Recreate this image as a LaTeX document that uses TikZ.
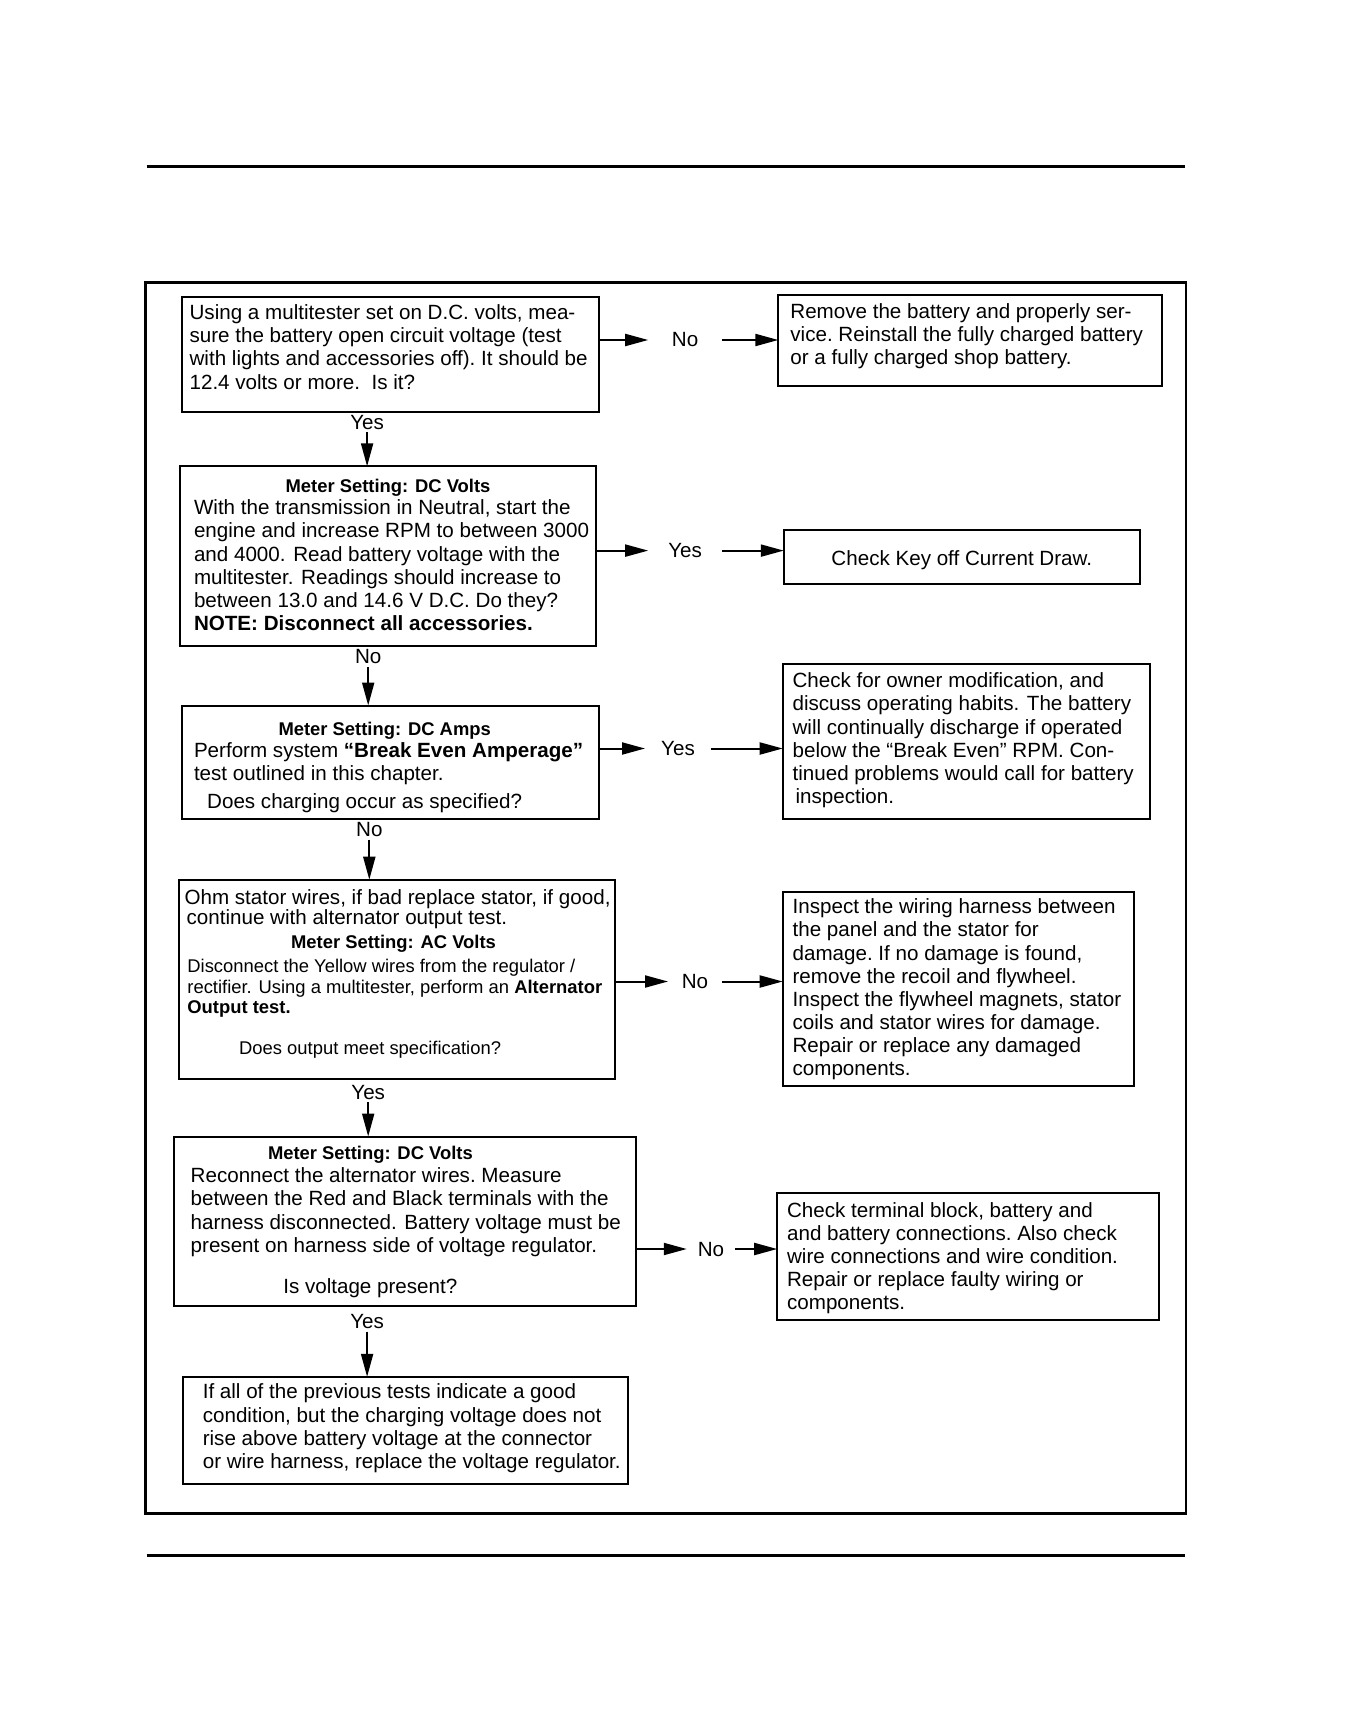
\documentclass[tikz,border=0pt]{standalone}
\usepackage{fontspec}
\setmainfont{Liberation Sans}
\usetikzlibrary{arrows.meta,fit}
\newcommand\mystrut{\rule{0pt}{8pt}}
\begin{document}
\begin{tikzpicture}[x=0.5pt,y=-0.5pt,
  box/.style={draw, line width=1pt, inner sep=0pt, outer sep=0pt},
  txt/.style={inner sep=0pt, outer sep=0pt, align=left, anchor=north west, yshift=-0.6pt, font=\fontsize{10.3}{11.57}\selectfont},
  smalltxt/.style={inner sep=0pt, outer sep=0pt, align=left, anchor=north west, yshift=-0.6pt, font=\fontsize{9.2}{10.4}\selectfont},
  hdr/.style={inner sep=0pt, outer sep=0pt, anchor=base, yshift=-0.6pt, font=\fontsize{9.2}{11}\selectfont\bfseries},
  ctxt/.style={inner sep=0pt, outer sep=0pt, anchor=base, yshift=-0.6pt, font=\fontsize{10.3}{12}\selectfont},
  lbl/.style={inner sep=0pt, outer sep=0pt, minimum width=#1, font=\fontsize{10.3}{12}\selectfont},
  vlbl/.style={inner sep=0pt, outer sep=0pt, minimum height=10pt, font=\fontsize{10.3}{12}\selectfont},
  arr/.style={line width=1pt, -{Triangle[length=11.5pt,width=6pt]}},
  hrule/.style={line width=1.1pt}]
\useasboundingbox (0,0) rectangle (1368,1728);

% page rules and frame
\coordinate (tl) at (146.6,166.5); \coordinate (tr) at (1185,166.5);
\coordinate (bl) at (146.6,1555.4); \coordinate (br) at (1185,1555.4);
\draw[hrule] (tl) -- (tr);
\draw[hrule] (bl) -- (br);
\node[draw, line width=1.3pt, inner sep=0pt, outer sep=0pt, fit={(145.5,282.2) (1186.1,1513.5)}] (frame) {};

% boxes
\node[box, fit={(181.9,296.5) (598.6,412.3)}] (b1) {};
\node[box, fit={(778.3,295.4) (1161.9,385.8)}] (r1) {};
\node[box, fit={(179.7,466.3) (596.4,646.0)}] (b2) {};
\node[box, fit={(783.8,530.2) (1139.8,584.2)}] (r2) {};
\node[box, fit={(181.9,705.5) (598.6,819.0)}] (b3) {};
\node[box, fit={(782.7,663.6) (1149.7,819.0)}] (r3) {};
\node[box, fit={(178.6,879.7) (615.1,1079.2)}] (b4) {};
\node[box, fit={(782.7,891.8) (1134.3,1085.8)}] (r4) {};
\node[box, fit={(174.2,1136.5) (636.1,1306.3)}] (b5) {};
\node[box, fit={(777.2,1192.7) (1158.6,1319.5)}] (r5) {};
\node[box, fit={(183.0,1376.8) (628.3,1483.8)}] (b6) {};

% texts
\node[txt] (t1) at (189.6,302.5) {\mystrut Using a multitester set on D.C. volts, mea-\\sure the battery open circuit voltage (test\\with lights and accessories off).\ It should be\\12.4 volts or more.\ \ Is it?};
\node[txt] (tr1) at (790.4,301.4) {\mystrut Remove the battery and properly ser-\\vice.\ Reinstall the fully charged battery\\or a fully charged shop battery.};

\node[hdr] (h2) at (388,491.5) {Meter Setting: DC Volts};
\node[txt] (t2) at (194,497.6) {\mystrut With the transmission in Neutral, start the\\engine and increase RPM to between 3000\\and 4000. Read battery voltage with the\\multitester. Readings should increase to\\between 13.0 and 14.6 V D.C. Do they?\\\textbf{NOTE: Disconnect all accessories.}};
\node[ctxt] (tr2) at (961.8,564.3) {Check Key off Current Draw.};

\node[hdr] (h3) at (384.7,734) {Meter Setting: DC Amps};
\node[txt] (t3) at (194,740.1) {\mystrut Perform system \textbf{“Break Even Amperage”}\\test outlined in this chapter.};
\node[txt] (t3b) at (207.2,790.8) {\mystrut Does charging occur as specified?};
\node[txt] (tr3) at (792.6,670.6) {\mystrut Check for owner modification, and\\discuss operating habits. The battery\\will continually discharge if operated\\below the “Break Even” RPM. Con-\\tinued problems would call for battery\\\hspace*{1.5pt}inspection.};

\node[txt, font=\fontsize{10.3}{10}\selectfont] (t4a) at (184.6,887) {\mystrut Ohm stator wires, if bad replace stator, if good,\\\hspace*{1pt}continue with alternator output test.};
\node[hdr] (h4) at (393.5,947.6) {Meter Setting: AC Volts};
\node[smalltxt] (t4b) at (187.4,955) {\mystrut Disconnect the Yellow wires from the regulator /\\rectifier. Using a multitester, perform an \textbf{Alternator}\\\textbf{Output test.}};
\node[smalltxt] (t4c) at (239.2,1037.5) {\mystrut Does output meet specification?};
\node[txt] (tr4) at (792.6,896.6) {\mystrut Inspect the wiring harness between\\the panel and the stator for\\damage.\ If no damage is found,\\remove the recoil and flywheel.\\Inspect the flywheel magnets, stator\\coils and stator wires for damage.\\Repair or replace any damaged\\components.};

\node[hdr] (h5) at (370.4,1158.5) {Meter Setting: DC Volts};
\node[txt] (t5) at (190.7,1165.6) {\mystrut Reconnect the alternator wires.\ Measure\\between the Red and Black terminals with the\\harness disconnected. Battery voltage must be\\present on harness side of voltage regulator.};
\node[txt] (t5b) at (283.3,1275.8) {\mystrut Is voltage present?};
\node[txt] (tr5) at (787.1,1199.8) {\mystrut Check terminal block,\ battery and\\and battery connections.\ Also check\\wire connections and wire condition.\\Repair or replace faulty wiring or\\components.};

\node[txt] (t6) at (202.8,1381.7) {\mystrut If all of the previous tests indicate a good\\condition, but the charging voltage does not\\rise above battery voltage at the connector\\or wire harness, replace the voltage regulator.};

% horizontal labels and connectors
\node[lbl=36.9pt] (n1) at (685.1,340) {No};
\draw[arr] (b1.east |- n1.west) -- (n1.west);
\draw[arr] (n1.east) -- (r1.west |- n1.east);

\node[lbl=36.9pt] (n2) at (685.1,550.6) {Yes};
\draw[arr] (b2.east |- n2.west) -- (n2.west);
\draw[arr] (n2.east) -- (r2.west |- n2.east);

\node[lbl=33pt] (n3) at (678,748.5) {Yes};
\draw[arr] (b3.east |- n3.west) -- (n3.west);
\draw[arr] (n3.east) -- (r3.west |- n3.east);

\node[lbl=27pt] (n4) at (695,981.5) {No};
\draw[arr] (b4.east |- n4.west) -- (n4.west);
\draw[arr] (n4.east) -- (r4.west |- n4.east);

\node[lbl=24.25pt] (n5) at (711,1249) {No};
\draw[arr] (b5.east |- n5.west) -- (n5.west);
\draw[arr] (n5.east) -- (r5.west |- n5.east);

% vertical labels and connectors
\node[vlbl] (v1) at (367.1,422.1) {Yes};
\draw[arr] (v1.south) -- (v1.south |- b2.north);
\node[vlbl] (v2) at (368.2,656.9) {No};
\draw[arr] (v2.south) -- (v2.south |- b3.north);
\node[vlbl] (v3) at (369.3,829.5) {No};
\draw[arr] (v3.south) -- (v3.south |- b4.north);
\node[vlbl] (v4) at (368.2,1092.3) {Yes};
\draw[arr] (v4.south) -- (v4.south |- b5.north);
\node[vlbl] (v5) at (367.1,1321.6) {Yes};
\draw[arr] (v5.south) -- (v5.south |- b6.north);
\end{tikzpicture}
\end{document}
